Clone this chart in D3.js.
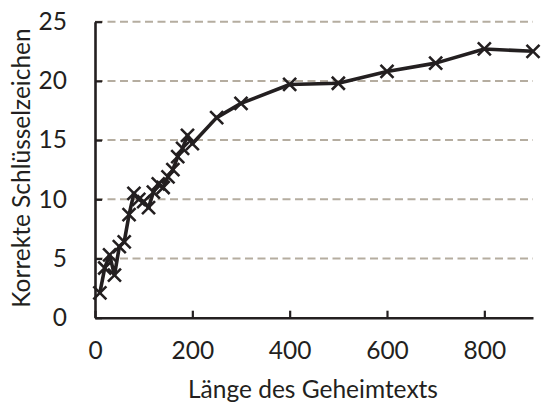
<!DOCTYPE html>
<html><head><meta charset="utf-8">
<script src="https://cdn.jsdelivr.net/npm/d3@7"></script>
<style>
html,body{margin:0;padding:0;background:#fff;}
svg text{font-family:Lato,"Open Sans",sans-serif;fill:#231f20;}
</style></head>
<body>
<svg id="chart" width="541" height="407"></svg>
<script>
const lengths = [10,20,30,40,50,60,70,80,90,100,110,120,130,140,150,160,170,180,190,200,250,300,400,500,600,700,800,900];
const correct = [2.1,4.2,5.3,3.6,6.0,6.4,8.7,10.5,10.0,9.8,9.3,10.6,11.3,11.0,11.9,12.5,13.6,14.3,15.4,14.7,16.9,18.1,19.7,19.8,20.8,21.5,22.7,22.5];
const xTicks = [0,200,400,600,800];
const yTicks = [0,5,10,15,20,25];
const xTitle = "Länge des Geheimtexts";
const yTitle = "Korrekte Schlüsselzeichen";

const svg = d3.select("#chart");
const x = d3.scaleLinear().domain([0,900]).range([95,533]);
const y = d3.scaleLinear().domain([0,25]).range([317.7,21.7]);
const fs = 24.5;

// grid
svg.append("g").selectAll("line").data(yTicks.filter(d=>d>0)).join("line")
  .attr("x1",x(0)).attr("x2",x(900)).attr("y1",d=>y(d)).attr("y2",d=>y(d))
  .attr("stroke","#b5ada0").attr("stroke-width",2).attr("stroke-dasharray","8,4.5");

// axes
const xAxis = svg.append("g").attr("transform",`translate(0,${y(0)})`)
  .call(d3.axisBottom(x).tickValues(xTicks).tickSizeInner(-7).tickSizeOuter(0));
const yAxis = svg.append("g").attr("transform",`translate(${x(0)},0)`)
  .call(d3.axisLeft(y).tickValues(yTicks).tickSizeInner(-7).tickSizeOuter(0));
[xAxis,yAxis].forEach(g=>{
  g.select(".domain").attr("stroke","#231f20").attr("stroke-width",2.6);
  g.selectAll(".tick line").attr("stroke","#231f20").attr("stroke-width",2.2);
  g.selectAll(".tick text").attr("font-size",fs).attr("font-family","Lato").attr("fill","#231f20");
});
xAxis.selectAll(".tick text").attr("dy","0.71em").attr("y",24);
yAxis.selectAll(".tick text").attr("x",-28);

// line
svg.append("path").datum(lengths.map((d,i)=>[d,correct[i]]))
  .attr("fill","none").attr("stroke","#231f20").attr("stroke-width",3.6).attr("stroke-linejoin","round")
  .attr("d",d3.line().x(d=>x(d[0])).y(d=>y(d[1])));

// markers
const s = 6.5;
svg.append("g").selectAll("path").data(lengths.map((d,i)=>[d,correct[i]])).join("path")
  .attr("transform",d=>`translate(${x(d[0])},${y(d[1])})`)
  .attr("d",`M${-s},${-s}L${s},${s}M${-s},${s}L${s},${-s}`)
  .attr("stroke","#231f20").attr("stroke-width",2.6).attr("fill","none");

// titles
svg.append("text").attr("x",313).attr("y",398).attr("text-anchor","middle").attr("font-size",fs).text(xTitle);
svg.append("text").attr("transform","translate(30,168) rotate(-90)").attr("text-anchor","middle").attr("font-size",fs).text(yTitle);
</script>
</body></html>
